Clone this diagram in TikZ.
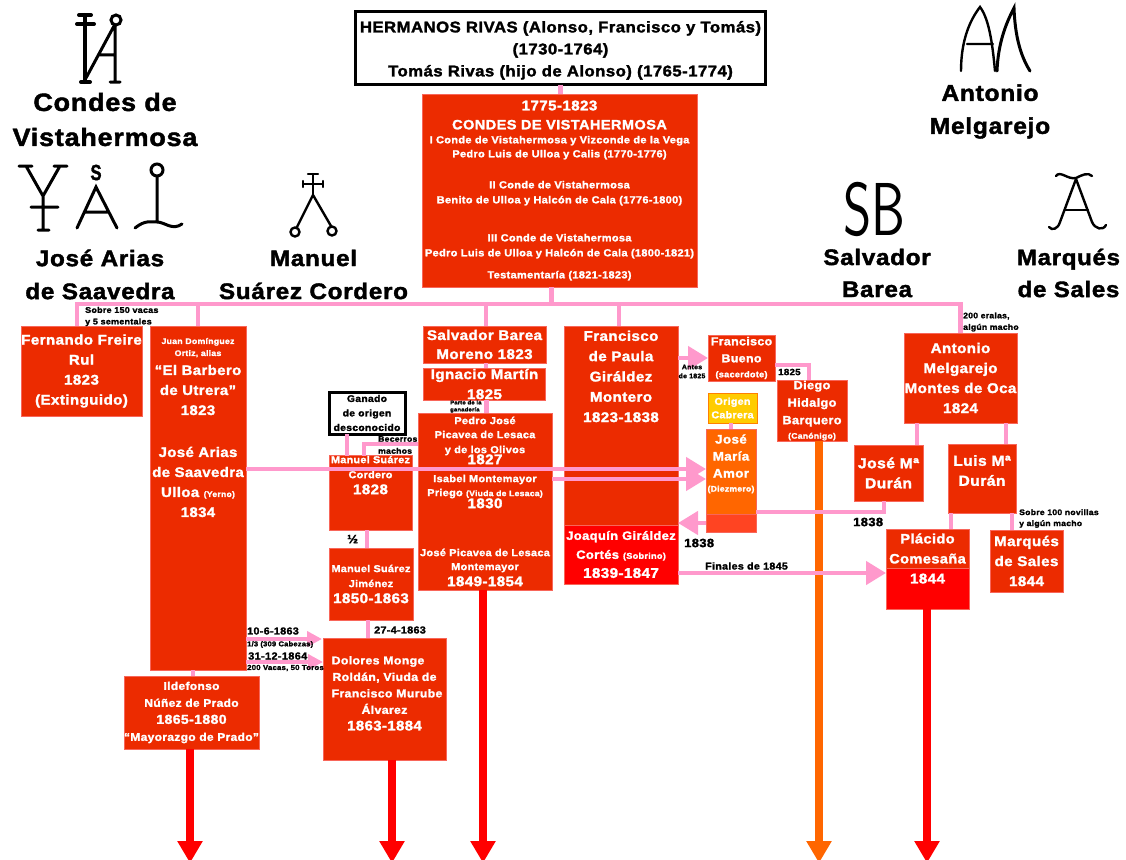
\documentclass[tikz,border=0pt]{standalone}
\usepackage{fontspec}
\setmainfont{Liberation Sans}[BoldFeatures={FakeBold=1.8,FakeStretch=1.08,LetterSpace=3}]
\usepackage{xcolor}
\usepackage{tikz}
\usetikzlibrary{positioning,calc,arrows.meta}
\definecolor{boxred}{HTML}{EC2B00}
\definecolor{boxedge}{HTML}{F8665A}
\definecolor{linkpink}{HTML}{FF99CC}
\definecolor{trunkorange}{HTML}{FF6600}
\definecolor{lowred}{HTML}{FF4422}
\definecolor{originyellow}{HTML}{FFCC00}
\newcommand{\txtsize}[2]{\fontsize{#1}{#2}\selectfont}

\begin{document}
\begin{tikzpicture}[
    x=1pt, y=-1pt,
    box/.style={rectangle, draw=boxedge, fill=boxred, line width=1pt, text=white, inner sep=0pt, outer sep=0pt, align=center, font=\bfseries\txtsize{14}{20}},
    redbox/.style={box, fill=red},
    orangebox/.style={box, fill=trunkorange},
    yellowbox/.style={box, fill=originyellow, draw=orange},
    blackbox/.style={rectangle, draw=black, fill=white, line width=3pt, text=black, inner sep=0pt, outer sep=0pt, align=center, font=\bfseries\txtsize{9.6}{14.5}},
    heading/.style={align=center, inner sep=0pt, font=\bfseries\txtsize{25}{35}},
    note/.style={anchor=west, inner sep=0pt, align=left, text=black, font=\bfseries\txtsize{8}{11.5}},
    brand/.style={draw=black, line width=3pt, line cap=round},
    link/.style={draw=linkpink, line width=4.5pt},
    bigarrow/.style={link, -{Triangle[length=20pt,width=23pt]}},
    smallarrow/.style={link, line width=4pt, -{Triangle[length=15pt,width=15pt]}},
    trunk/.style={draw=red, line width=8pt, -{Triangle[length=22pt,width=24pt]}}
]
    \useasboundingbox (0,0) rectangle (1126,859);

    \node[blackbox, minimum width=410pt, minimum height=73pt, font=\bfseries\txtsize{15.5}{22}] (rivas) at (560.5,48) {\rule{0pt}{16pt}HERMANOS RIVAS (Alonso, Francisco y Tomás)\\(1730-1764)\\Tomás Rivas (hijo de Alonso) (1765-1774)};
    \node[box, minimum width=275pt, minimum height=193pt, font=\bfseries\txtsize{10.2}{14}] (condes) at (559.5,190.5) {{\txtsize{14}{14}1775-1823}\\[5pt]{\txtsize{13.5}{14}CONDES DE VISTAHERMOSA}\\I Conde de Vistahermosa y Vizconde de la Vega\\Pedro Luis de Ulloa y Calis (1770-1776)\\[17pt]II Conde de Vistahermosa\\[1pt]Benito de Ulloa y Halcón de Cala (1776-1800)\\[24pt]III Conde de Vistahermosa\\[1pt]Pedro Luis de Ulloa y Halcón de Cala (1800-1821)\\[8pt]Testamentaría (1821-1823)};

    \node[box, minimum width=121pt, minimum height=90pt] (freire) at (81.5,371) {Fernando Freire\\Rul\\1823\\(Extinguido)};
    \node[box, minimum width=96pt, minimum height=344pt, font=\bfseries\txtsize{13.8}{20}] (barbero) at (198,498) {{\txtsize{8.1}{20}Juan Domínguez}\\[-8pt]{\txtsize{8.1}{20}Ortiz, alias}\\[-1pt]“El Barbero\\de Utrera”\\1823\\[22pt]José Arias\\de Saavedra\\Ulloa {\txtsize{8}{20}(Yerno)}\\1834\\[121pt]\mbox{}};
    \node[box, minimum width=135pt, minimum height=73pt, font=\bfseries\txtsize{11.1}{17}] (prado) at (191.5,712.5) {Ildefonso\\Núñez de Prado\\{\txtsize{13}{17}1865-1880}\\“Mayorazgo de Prado”};

    \node[box, minimum width=123pt, minimum height=37pt, font=\bfseries\txtsize{14}{19}] (barea) at (484.5,344.5) {Salvador Barea\\Moreno 1823};
    \node[box, minimum width=122pt, minimum height=32pt, font=\bfseries\txtsize{14}{20}, below=5pt of barea] (martin) {Ignacio Martín\\1825};
    \node[box, minimum width=134pt, minimum height=177pt, font=\bfseries\txtsize{10.1}{14}] (picavea) at (485,501.5) {Pedro José\\Picavea de Lesaca\\[1pt]y de los Olivos\\[-3pt]{\txtsize{14}{14}1827}\\[4pt]Isabel Montemayor\\Priego {\txtsize{8}{14}(Viuda de Lesaca)}\\[-2pt]{\txtsize{14}{14}1830}\\[34pt]José Picavea de Lesaca\\Montemayor\\[2pt]{\txtsize{14}{14}1849-1854}};

    \node[box, minimum width=114pt, minimum height=199pt, font=\bfseries\txtsize{14}{20.3}] (paula) at (621,425.5) {Francisco\\de Paula\\Giráldez\\Montero\\1823-1838\\[78pt]\mbox{}};
    \node[redbox, minimum width=114pt, minimum height=59pt, font=\bfseries\txtsize{12}{19}, below=0pt of paula] (joaquin) {Joaquín Giráldez\\Cortés {\txtsize{8.5}{19}(Sobrino)}\\{\txtsize{14}{19}1839-1847}};

    \node[box, minimum width=67pt, minimum height=46pt, font=\bfseries\txtsize{11.5}{17}] (bueno) at (741.5,358) {Francisco\\Bueno\\[-2pt]{\txtsize{8.5}{17}(sacerdote)}};
    \node[box, minimum width=70pt, minimum height=61pt, font=\bfseries\txtsize{11.8}{17.5}] (hidalgo) at (812,410.5) {Diego\\Hidalgo\\Barquero\\[-3pt]{\txtsize{8}{17}(Canónigo)}};
    \node[yellowbox, minimum width=49pt, minimum height=30pt, font=\bfseries\txtsize{9.9}{13.5}] (cabrera) at (732.5,408) {Origen\\Cabrera};
    \node[orangebox, minimum width=50pt, minimum height=85pt, font=\bfseries\txtsize{12.4}{17}] (amor) at (731,471.5) {José\\María\\Amor\\[-3pt]{\txtsize{8}{17}(Diezmero)}\\[0pt]\mbox{}};
    \node[box, fill=lowred, minimum width=50pt, minimum height=18pt, below=0pt of amor] (amorlow) {};

    \node[box, minimum width=113pt, minimum height=90pt] (melgarejo) at (960.5,378) {Antonio\\Melgarejo\\Montes de Oca\\1824};
    \node[box, minimum width=69pt, minimum height=56pt, font=\bfseries\txtsize{14.5}{20}] (duranjm) at (888.5,473) {José Mª\\Durán};
    \node[box, minimum width=68pt, minimum height=69pt, font=\bfseries\txtsize{14.5}{20}] (duranlm) at (982,478.5) {Luis Mª\\Durán\\[-4pt]\mbox{}};
    \node[box, minimum width=83pt, minimum height=39pt, font=\bfseries\txtsize{13.5}{20}] (comesana) at (927.5,548.5) {Plácido\\Comesaña};
    \node[redbox, minimum width=83pt, minimum height=41pt, below=0pt of comesana] (comesanalow) {1844\\[0pt]\mbox{}};
    \node[box, minimum width=73pt, minimum height=62pt] (sales) at (1026.5,561) {Marqués\\de Sales\\1844};

    \node[blackbox, minimum width=76pt, minimum height=42pt] (ganado) at (367,413) {Ganado\\de origen\\desconocido};
    \node[box, minimum width=83pt, minimum height=74pt, font=\bfseries\txtsize{10}{15}] (cordero) at (370.5,493) {Manuel Suárez\\Cordero\\[1pt]{\txtsize{14}{15}1828}\\[21pt]\mbox{}};
    \node[box, minimum width=84pt, minimum height=72pt, font=\bfseries\txtsize{10}{15}] (jimenez) at (371,584) {Manuel Suárez\\Jiménez\\[1pt]{\txtsize{14}{15}1850-1863}};
    \node[box, minimum width=123pt, minimum height=122pt, font=\bfseries\txtsize{11.4}{16.5}] (murube) at (384.5,699) {Dolores Monge\hspace*{13pt}\\Roldán, Viuda de\hspace*{13pt}\\\hspace*{5pt}Francisco Murube\\Álvarez\hspace*{13pt}\\{\txtsize{13.8}{16.5}1863-1884}\hspace*{13pt}\\[-5pt]\mbox{}};

    \draw[trunk, draw=trunkorange] (hidalgo.south -| 819,0) -- (819,863);
    \draw[trunk] (190,749) -- (190,863);
    \draw[trunk] (392,760) -- (392,863);
    \draw[trunk] (483,590) -- (483,863);
    \draw[trunk] (927,609) -- (927,863);

    \coordinate (busL) at (77,304);
    \coordinate (busR) at (melgarejo.north |- busL);
    \draw[link] (rivas.south) -- (rivas.south |- condes.north);
    \draw[link] ([xshift=-8pt]condes.south) -- ([xshift=-8pt]condes.south |- busL);
    \draw[link] ([xshift=-2.25pt]busL) -- ([xshift=2.25pt]busR);
    \draw[link] (busL) -- (busL |- freire.north);
    \draw[link] (barbero.north |- busL) -- (barbero.north);
    \draw[link] ([xshift=1.5pt]barea.north |- busL) -- ([xshift=1.5pt]barea.north);
    \draw[link] ([xshift=-2pt]paula.north |- busL) -- ([xshift=-2pt]paula.north);
    \draw[link] (busR) -- (melgarejo.north);
    \draw[link] ([xshift=1.5pt]barea.south) -- ([xshift=1.5pt]martin.north);
    \draw[link] ([xshift=2pt]martin.south) -- ([xshift=2pt]martin.south |- picavea.north);
    \draw[link] (ganado.south -| 347,0) -- (cordero.north -| 347,0);
    \draw[link] (picavea.west |- 0,444) -- (364,444) -- (cordero.north -| 364,0);
    \draw[link] (barbero.south -| 193,0) -- (prado.north -| 193,0);
    \draw[link] ([xshift=-3.5pt]cordero.south) -- ([xshift=-3.5pt]cordero.south |- jimenez.north);
    \draw[link] ([xshift=-3pt]jimenez.south) -- ([xshift=-3pt]jimenez.south |- murube.north);
    \draw[link] (bueno.east |- 0,365) -- (809,365) -- (hidalgo.north -| 809,0);
    \draw[link] (cabrera.south -| 731,0) -- (amor.north -| 731,0);
    \draw[link] (melgarejo.south -| 917,0) -- (duranjm.north -| 917,0);
    \draw[link] (melgarejo.south -| 1006,0) -- (duranlm.north -| 1006,0);
    \draw[link] (duranlm.south -| 951,0) -- (comesana.north -| 951,0);
    \draw[link] (duranlm.south -| 1012,0) -- (sales.north -| 1012,0);
    \draw[link] (duranjm.south -| 884,0) -- (884,512) -- (amor.east |- 0,512);

    \draw[bigarrow] (barbero.east |- 0,469) -- (amor.west |- 0,469);
    \draw[bigarrow] (picavea.east |- 0,479) -- (amor.west |- 0,479);
    \draw[bigarrow] (paula.east |- bueno.west) -- (bueno.west);
    \draw[bigarrow] (amorlow.west) -- (joaquin.east |- amorlow.west);
    \draw[bigarrow] (joaquin.east |- 0,573) -- (comesana.west |- 0,573);
    \draw[smallarrow] (barbero.east |- 0,639) -- (322,639);
    \draw[smallarrow] (barbero.east |- 0,662) -- (murube.west |- 0,662);

    \node[note, font=\bfseries\txtsize{8.3}{11.5}] (n150) at (85,316.5) {Sobre 150 vacas\\y 5 sementales};
    \node[note, font=\bfseries\txtsize{8}{12}] (nbecerros) at (378,445) {Becerros\\machos};
    \node[note, font=\bfseries\txtsize{5.5}{7}] (nparte) at (450,406.5) {Parte de la\\ganadería};
    \node[note, align=center, anchor=center, font=\bfseries\txtsize{6.5}{9}] (nantes) at (692,371.5) {Antes\\de 1825};
    \node[note, font=\bfseries\txtsize{9}{11}] (n1825) at (778,372) {1825};
    \node[note] (neralas) at (963,322) {200 eralas,\\algún macho};
    \node[note, font=\bfseries\txtsize{8}{11}] (nnovillas) at (1019,518.5) {Sobre 100 novillas\\y algún macho};
    \node[note, font=\bfseries\txtsize{12}{12}] (n1838a) at (853,522) {1838};
    \node[note, font=\bfseries\txtsize{12}{12}] (n1838b) at (684,543) {1838};
    \node[note, font=\bfseries\txtsize{9.9}{11}] (nfinales) at (705,566) {Finales de 1845};
    \node[note, font=\bfseries\txtsize{12}{12}] (nhalf) at (347,539) {½};
    \node[note, font=\bfseries\txtsize{10}{11}] (ndate1) at (247,631) {10-6-1863};
    \node[note, font=\bfseries\txtsize{7}{8}] (ncab) at (247,644.5) {1/3 (309 Cabezas)};
    \node[note, font=\bfseries\txtsize{10.2}{11}] (ndate2) at (248,656) {31-12-1864};
    \node[note, font=\bfseries\txtsize{7.2}{8}] (nvacas) at (247,668) {200 Vacas, 50 Toros};
    \node[note, font=\bfseries\txtsize{10}{11}] (ndate3) at (374,630) {27-4-1863};

    \node[heading] (hcondes) at (105,119.5) {Condes de\\Vistahermosa};
    \node[heading, font=\bfseries\txtsize{22.5}{33}] (harias) at (100,274.5) {José Arias\\de Saavedra};
    \node[heading, font=\bfseries\txtsize{22.5}{33}] (hsuarez) at (313.5,274.5) {Manuel\\Suárez Cordero};
    \node[heading, font=\bfseries\txtsize{22.8}{33}] (hmelgarejo) at (990,111.5) {Antonio\\Melgarejo};
    \node[heading, font=\bfseries\txtsize{22.5}{32}] (hbarea) at (877,273) {Salvador\\Barea};
    \node[heading, font=\bfseries\txtsize{22.3}{32}] (hsales) at (1068.5,273) {Marqués\\de Sales};

    \draw[brand, line width=4pt] (85,15) -- (85,82) (79,15) -- (91,15) (77,24) -- (94,24) (81,82) -- (90,82);
    \draw[brand] (86,78) -- (114,26) (115,26) -- (115,82) (110,82) -- (120,82) (100,55) -- (115,55);
    \draw[brand] (116,20) circle (5pt);

    \draw[brand] (19,166) -- (32,166) (26,166) -- (43,196) -- (60,166) (54,166) -- (67,166) (43,196) -- (43,230) (31,207) -- (58,207) (38,230) -- (49,230);
    \node[inner sep=0pt, xscale=.7, font=\bfseries\txtsize{22}{22}] (brandS) at (96,172.5) {S};
    \draw[brand] (77,228) -- (96,187) -- (117,228) (84,212) -- (109,212);
    \draw[brand] (157,170) circle (6pt);
    \draw[brand] (157,176) -- (157,222) (135,228) .. controls (145,220) and (150,222) .. (157,222) .. controls (165,222) and (172,231) .. (182,224);

    \draw[brand, line width=2.4pt] (313,174) -- (313,195) (308,174) -- (318,174) (303,184) -- (323,184) (303,181) -- (303,187) (323,181) -- (323,187);
    \draw[brand, line width=2.4pt] (313,195) -- (297,227) (313,195) -- (331,226);
    \draw[brand, line width=2.4pt] (295,232) circle (4.5pt) (332,231) circle (4.5pt);

    \draw[brand, line width=2.4pt] (961,71) .. controls (961,40) and (970,20) .. (980,7) .. controls (990,20) and (993,50) .. (995,71) (967,44) -- (993,44);
    \draw[brand] (997,71) .. controls (998,45) and (1005,25) .. (1014,8) .. controls (1015,35) and (1020,55) .. (1030,71);

    \node[inner sep=0pt, xscale=.72, font=\sffamily\txtsize{75}{75}] (brandSB) at (874,209) {SB};

    \draw[brand, line width=2.4pt] (1076,179) -- (1060,222) .. controls (1058,229) and (1052,231) .. (1049,227);
    \draw[brand, line width=2.4pt] (1076,179) -- (1092,222) .. controls (1095,229) and (1103,231) .. (1106,225);
    \draw[brand, line width=2.4pt] (1065,210) -- (1088,210);
    \draw[brand, line width=2.4pt] (1056,176) .. controls (1060,170) and (1068,180) .. (1076,178) .. controls (1082,175) and (1088,172) .. (1092,176);
\end{tikzpicture}
\end{document}
